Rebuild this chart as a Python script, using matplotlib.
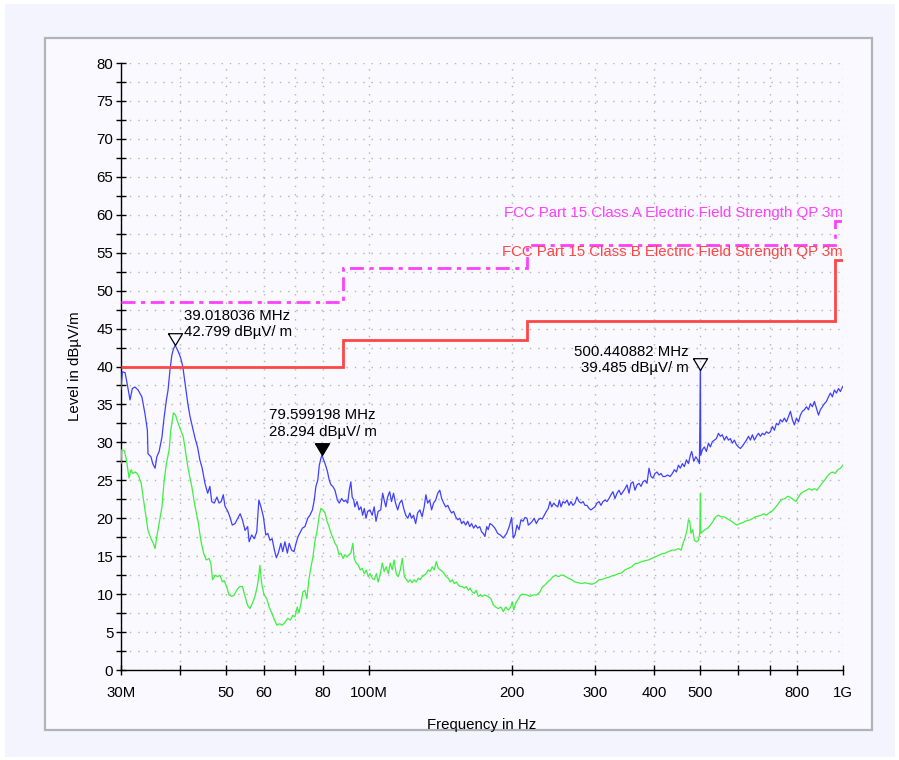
import matplotlib
matplotlib.use("Agg")
import matplotlib.pyplot as plt
from matplotlib.patches import Rectangle
from matplotlib.ticker import FixedLocator, NullFormatter, MultipleLocator

plt.rcParams['font.family'] = ['Liberation Sans', 'DejaVu Sans']

# peak trace (blue), MHz / dBuV/m
blue_freq = [30.0, 30.2, 30.6, 31.0, 31.34, 31.7, 32.1, 32.6, 33.2, 33.7, 34.1, 34.2, 34.7, 35.0, 35.4,
             35.7, 36.1, 36.6, 37.0, 37.4, 37.7, 38.05, 38.4, 38.7, 39.018, 39.3, 39.6, 40.1, 40.5, 40.94,
             41.5, 41.95, 42.6, 43.0, 43.5, 44.0, 44.5, 45.1, 45.7, 46.2, 46.6, 47.2, 47.8, 48.3, 48.8,
             49.3, 49.7, 50.4, 50.9, 51.5, 52.2, 52.9, 53.5, 54.1, 54.8, 55.5, 55.9, 56.6, 57.3, 58.0,
             58.6, 59.2, 59.9, 60.6, 61.2, 61.85, 62.5, 63.2, 63.8, 64.4, 65.2, 65.8, 66.5, 67.3, 67.9,
             68.7, 69.5, 70.2, 70.9, 72.4, 73.3, 74.3, 75.1, 76.0, 76.7, 77.3, 78.0, 78.6, 79.2, 79.599,
             80.5, 81.2, 81.8, 82.5, 83.2, 83.9, 84.8, 85.8, 86.6, 87.6, 88.6, 89.3, 90.2, 90.9, 91.6,
             92.2, 92.9, 93.4, 94.4, 95.3, 96.2, 97.0, 97.8, 98.6, 99.4, 100.5, 101.6, 102.6, 103.5, 104.6,
             105.9, 106.9, 107.7, 108.6, 109.5, 110.6, 111.6, 112.7, 113.8, 115.0, 116.1, 117.3, 118.4, 119.6, 120.8,
             122.0, 123.0, 124.2, 125.5, 126.7, 128.1, 129.5, 130.8, 131.9, 133.0, 134.3, 135.6, 136.9, 138.3, 139.7,
             141.1, 142.4, 143.8, 145.2, 146.7, 148.1, 149.4, 150.9, 152.4, 153.9, 155.5, 156.9, 158.4, 160.0, 161.6,
             163.2, 164.7, 166.3, 167.9, 169.6, 171.3, 172.9, 174.3, 175.7, 177.2, 178.5, 180.0, 182.0, 184.4, 186.9,
             189.3, 192.1, 195.2, 197.7, 200.0, 201.6, 203.3, 205.3, 207.3, 209.3, 211.4, 213.4, 215.5, 216.9, 218.9,
             221.1, 223.2, 225.5, 227.7, 229.8, 232.1, 234.4, 236.7, 239.0, 241.0, 243.0, 245.4, 247.8, 250.3, 252.2,
             254.2, 256.7, 259.2, 261.8, 264.3, 266.8, 269.4, 272.0, 274.7, 277.4, 280.2, 282.9, 285.7, 288.4, 291.3,
             294.0, 296.9, 299.8, 302.7, 305.7, 308.7, 311.7, 314.8, 317.8, 320.9, 324.1, 327.2, 330.4, 333.7, 336.9,
             340.3, 343.6, 346.9, 350.3, 353.7, 357.1, 360.6, 364.1, 367.7, 371.3, 374.9, 378.6, 382.3, 386.0, 389.8,
             393.6, 397.5, 401.3, 405.3, 409.2, 413.2, 417.2, 421.3, 427.0, 431.7, 436.6, 440.9, 445.3, 449.7, 453.9,
             458.3, 462.8, 467.4, 472.1, 476.4, 479.6, 484.4, 489.2, 494.1, 497.9, 500.44, 501.1, 505.0, 510.0, 515.1,
             520.2, 525.1, 530.2, 535.4, 540.8, 546.1, 551.2, 556.6, 562.1, 567.7, 573.3, 578.7, 584.3, 590.1, 595.9,
             601.8, 607.5, 613.5, 619.5, 625.6, 631.8, 637.8, 644.0, 650.3, 656.8, 663.3, 669.5, 676.1, 682.7, 689.5,
             696.3, 702.9, 709.7, 716.7, 723.8, 731.0, 737.8, 745.0, 752.3, 759.8, 767.4, 774.6, 782.1, 789.8, 797.7,
             805.6, 813.1, 821.1, 829.1, 837.4, 845.7, 853.6, 861.9, 870.4, 879.1, 887.8, 896.0, 904.8, 913.7, 922.8,
             931.9, 940.7, 949.9, 959.2, 968.8, 978.4, 987.6, 997.2, 1000.0]
blue_level = [37.0, 39.3, 39.2, 37.3, 35.6, 37.1, 37.3, 36.9, 36.0, 33.8, 31.6, 28.5, 28.1, 27.2, 26.6,
              28.1, 28.8, 30.7, 33.4, 35.6, 36.9, 39.5, 41.5, 42.3, 42.799, 42.4, 42.0, 41.1, 40.0, 37.8,
              35.1, 33.4, 31.6, 30.5, 29.4, 27.7, 26.6, 24.6, 23.3, 24.2, 22.2, 22.0, 22.8, 22.0, 22.2,
              23.1, 21.6, 20.9, 20.2, 19.1, 19.3, 20.0, 20.6, 19.8, 18.4, 18.9, 16.9, 17.8, 17.3, 18.2,
              22.4, 21.5, 20.2, 17.8, 18.0, 17.1, 17.3, 15.8, 14.8, 15.4, 16.7, 15.6, 16.9, 15.4, 16.7,
              15.8, 15.6, 16.7, 17.6, 18.7, 18.9, 20.0, 20.4, 21.1, 22.4, 24.2, 25.0, 27.0, 27.9, 28.294,
              27.5, 26.8, 26.1, 25.0, 24.4, 24.2, 23.7, 22.4, 22.0, 22.6, 22.2, 22.4, 22.0, 23.7, 24.8,
              22.8, 22.4, 21.5, 22.2, 21.1, 21.5, 20.4, 21.3, 20.0, 20.9, 21.1, 20.4, 21.5, 19.6, 20.9,
              21.1, 23.3, 22.4, 21.5, 22.8, 23.5, 22.2, 23.3, 22.0, 21.1, 22.0, 22.4, 21.3, 20.4, 20.0,
              20.7, 20.0, 20.4, 19.3, 20.7, 21.1, 20.2, 21.5, 23.1, 22.0, 22.4, 21.1, 22.0, 22.4, 23.3,
              23.7, 22.6, 22.0, 21.5, 21.7, 21.1, 20.7, 20.9, 20.2, 19.8, 20.0, 19.3, 19.6, 19.1, 19.6,
              18.9, 19.3, 18.7, 19.1, 18.7, 18.9, 18.2, 18.0, 17.6, 18.9, 18.5, 19.3, 19.1, 18.7, 18.0,
              17.8, 17.4, 18.0, 18.9, 20.1, 17.4, 17.8, 19.1, 18.5, 19.8, 19.6, 20.1, 20.0, 19.1, 19.3,
              19.6, 20.0, 19.3, 19.8, 20.0, 19.9, 20.4, 20.9, 21.3, 22.2, 21.5, 22.0, 21.7, 21.5, 22.4,
              21.5, 22.2, 22.0, 22.4, 21.7, 22.2, 21.7, 22.0, 22.8, 22.2, 22.0, 22.2, 21.7, 21.7, 21.3,
              21.1, 21.3, 21.5, 22.0, 22.2, 21.7, 22.2, 22.4, 22.2, 22.6, 23.1, 23.5, 22.6, 23.3, 23.7,
              23.1, 23.5, 23.9, 24.4, 23.3, 24.6, 24.8, 23.7, 24.4, 24.6, 24.2, 24.8, 25.0, 24.6, 26.6,
              25.5, 25.3, 25.9, 26.1, 25.7, 25.9, 25.5, 25.5, 25.7, 25.5, 25.9, 26.4, 26.1, 27.0, 26.6,
              27.2, 26.8, 27.7, 27.2, 28.3, 28.8, 27.5, 28.1, 27.7, 27.2, 39.485, 28.3, 29.0, 29.4, 28.8,
              29.9, 29.4, 30.1, 30.3, 30.5, 31.2, 30.8, 31.0, 30.3, 30.8, 30.3, 30.5, 29.9, 30.3, 29.7,
              29.4, 29.2, 29.5, 29.9, 30.3, 30.8, 30.3, 31.0, 30.3, 30.8, 31.2, 30.8, 31.2, 31.0, 31.4,
              31.2, 31.4, 32.1, 31.6, 32.5, 32.3, 33.0, 32.7, 33.2, 32.7, 33.4, 34.1, 33.0, 32.3, 33.2,
              32.7, 33.6, 34.1, 34.3, 34.7, 34.3, 35.1, 34.7, 35.4, 34.5, 33.6, 34.3, 34.7, 35.1, 35.4,
              36.0, 36.5, 36.0, 36.9, 36.5, 37.1, 36.7, 37.3, 37.4]

# average trace (green)
green_freq = [30.0, 30.1, 30.5, 30.8, 31.2, 31.5, 31.8, 32.2, 32.6, 33.1, 33.4, 33.8, 34.2, 34.7, 35.1,
              35.4, 35.7, 36.1, 36.6, 37.0, 37.4, 37.9, 38.2, 38.7, 39.1, 39.6, 40.1, 40.6, 41.1, 41.6,
              42.3, 43.0, 43.7, 44.2, 44.8, 45.4, 46.0, 46.4, 46.8, 47.4, 48.0, 48.5, 49.1, 49.5, 50.1,
              50.7, 51.4, 52.0, 52.7, 53.4, 54.1, 54.8, 55.5, 56.1, 56.8, 57.5, 58.3, 58.9, 59.4, 60.1,
              60.9, 61.6, 62.4, 63.2, 64.0, 64.8, 65.7, 66.5, 67.4, 68.3, 69.1, 69.8, 70.6, 71.2, 71.9,
              72.6, 73.3, 74.0, 74.7, 75.5, 76.2, 77.0, 77.7, 78.5, 79.2, 80.0, 80.8, 81.6, 82.4, 83.2,
              84.0, 84.8, 85.6, 86.5, 87.3, 88.2, 89.0, 89.9, 90.8, 91.6, 92.5, 93.1, 94.0, 95.0, 95.9,
              96.8, 97.8, 98.7, 99.7, 100.6, 101.6, 102.6, 103.7, 104.6, 105.7, 106.7, 107.7, 108.8, 109.9, 110.9,
              112.0, 113.0, 114.2, 115.3, 116.5, 117.6, 118.8, 120.0, 121.1, 122.2, 123.4, 124.6, 125.8, 127.1, 128.3,
              129.5, 130.8, 132.1, 133.4, 134.7, 136.0, 137.4, 138.7, 140.1, 141.4, 142.8, 144.2, 145.6, 147.1, 148.4,
              149.9, 151.3, 152.9, 154.4, 155.8, 157.4, 158.9, 160.5, 162.1, 163.5, 165.1, 166.8, 168.4, 170.1, 171.8,
              173.4, 175.1, 178.5, 180.9, 182.9, 185.0, 187.5, 189.9, 192.1, 194.3, 196.9, 199.1, 200.6, 202.0, 204.0,
              206.7, 209.0, 211.6, 215.2, 218.6, 222.1, 225.8, 229.5, 232.5, 235.1, 238.3, 241.4, 244.5, 247.8, 251.0,
              254.2, 257.0, 260.1, 263.5, 267.7, 272.0, 276.5, 281.1, 285.7, 290.4, 295.0, 298.8, 302.3, 305.7, 309.7,
              314.8, 320.0, 325.2, 330.4, 335.9, 341.4, 346.9, 352.7, 358.4, 364.1, 370.2, 376.2, 382.3, 388.6, 395.0,
              401.3, 408.0, 414.6, 421.3, 428.3, 435.3, 442.3, 449.7, 455.4, 459.9, 464.3, 468.9, 472.1, 475.1, 478.0,
              482.0, 485.8, 490.6, 495.5, 498.7, 500.44, 501.1, 505.0, 511.7, 518.5, 525.1, 532.0, 539.0, 546.1, 553.1,
              560.4, 567.7, 575.0, 582.6, 590.1, 597.8, 605.8, 613.5, 621.5, 629.8, 637.8, 646.2, 654.6, 663.3, 671.8,
              680.7, 689.5, 698.4, 707.6, 716.7, 726.1, 735.8, 745.0, 754.8, 764.9, 772.3, 779.8, 787.5, 795.4, 805.6,
              815.9, 826.7, 837.4, 848.2, 859.4, 870.4, 881.8, 893.5, 902.1, 913.7, 925.7, 938.0, 949.9, 962.4, 975.3,
              987.6, 1000.0]
green_level = [27.2, 29.0, 28.9, 27.7, 25.3, 26.4, 25.9, 26.1, 25.7, 24.6, 22.8, 20.6, 18.4, 17.3, 16.7,
               16.0, 17.6, 19.3, 21.5, 25.0, 27.2, 29.0, 31.6, 33.9, 33.6, 32.5, 31.6, 30.7, 28.5, 26.4,
               24.2, 21.5, 19.3, 17.1, 15.4, 14.5, 14.7, 14.1, 11.9, 12.5, 12.3, 12.5, 11.6, 11.8, 11.0,
               9.9, 9.7, 9.9, 10.6, 11.0, 11.0, 9.7, 8.5, 8.1, 8.8, 9.7, 11.4, 13.8, 11.4, 9.9,
               9.4, 8.3, 7.5, 6.6, 5.9, 6.1, 5.9, 6.3, 6.8, 6.6, 7.2, 7.0, 8.3, 7.5, 8.8,
               10.3, 10.5, 9.4, 11.9, 13.6, 14.9, 17.1, 18.2, 20.2, 21.3, 21.1, 20.7, 19.6, 18.9, 18.0,
               17.4, 16.7, 16.3, 15.2, 15.4, 14.7, 15.2, 14.9, 15.2, 15.4, 16.7, 14.7, 14.1, 13.8, 13.2,
               13.4, 12.7, 13.2, 12.3, 12.7, 12.1, 11.9, 12.7, 11.6, 12.7, 14.1, 13.0, 13.6, 12.7, 14.1,
               13.2, 14.5, 12.7, 12.3, 13.2, 14.7, 12.3, 11.9, 11.6, 11.9, 11.5, 11.9, 11.6, 12.1, 11.9,
               12.3, 12.5, 12.7, 13.2, 13.0, 13.6, 13.2, 14.3, 13.4, 13.2, 13.0, 12.7, 12.3, 12.1, 11.6,
               11.9, 11.4, 11.6, 11.2, 11.0, 11.0, 10.8, 11.0, 10.5, 10.8, 10.3, 10.1, 10.5, 9.7, 9.9,
               9.7, 9.9, 9.7, 9.4, 8.6, 8.3, 8.1, 8.3, 7.7, 8.3, 7.9, 8.3, 9.0, 7.9, 8.8,
               9.4, 9.9, 10.0, 9.9, 9.7, 9.9, 9.9, 10.3, 11.0, 11.2, 11.6, 11.9, 12.3, 12.5, 12.3,
               12.5, 12.5, 12.3, 12.1, 11.9, 11.6, 11.5, 11.4, 11.5, 11.4, 11.3, 11.4, 11.6, 11.9, 11.9,
               12.1, 12.2, 12.4, 12.5, 12.7, 12.8, 13.2, 13.4, 13.6, 14.0, 14.1, 14.3, 14.4, 14.5, 14.7,
               14.9, 15.1, 15.3, 15.4, 15.6, 15.8, 15.8, 16.0, 15.8, 16.7, 17.4, 18.5, 19.8, 19.6, 18.0,
               18.5, 17.1, 16.9, 17.1, 18.0, 23.3, 18.0, 18.2, 18.5, 18.7, 19.1, 19.6, 20.2, 20.4, 20.2,
               20.2, 20.0, 19.8, 19.6, 19.3, 19.1, 19.3, 19.4, 19.6, 19.7, 19.8, 20.0, 20.2, 20.3, 20.4,
               20.6, 20.4, 20.7, 20.9, 21.3, 21.7, 22.2, 22.5, 22.6, 22.9, 22.8, 22.6, 22.4, 22.2, 22.8,
               23.3, 23.5, 23.7, 23.9, 23.7, 23.9, 23.7, 24.2, 24.6, 25.0, 25.5, 25.9, 26.1, 25.9, 26.4,
               26.6, 27.0]

# limit lines: band edges (MHz) and levels
class_b_edges = [30, 88, 216, 960, 1000]
class_b_level = [40.0, 43.5, 46.0, 54.0]
class_a_edges = [30, 88, 216, 960, 1000]
class_a_level = [48.5, 53.0, 56.0, 59.2]

# markers
marker_freq = [39.018036, 79.599198, 500.440882]
marker_level = [42.799, 28.294, 39.485]
marker_filled = [False, True, False]

xtick_pos = [30, 40, 50, 60, 70, 80, 100, 200, 300, 400, 500, 600, 700, 800, 1000]
xtick_lab = ['30M', '', '50', '60', '', '80', '100M', '200', '300', '400', '500', '', '', '800', '1G']

fs = 10.8

fig = plt.figure(figsize=(8.99, 7.6), dpi=100)
fig.patches.append(Rectangle((0.0056, 0.004), 0.99, 0.9905, transform=fig.transFigure,
                             facecolor='#f3f4fd', edgecolor='none', zorder=-3))
fig.patches.append(Rectangle((0.0501, 0.0395), 0.920, 0.9105, transform=fig.transFigure,
                             facecolor='#f9f9ff', edgecolor='#b2b2b8', lw=1.6, zorder=-2))

ax = fig.add_axes([0.1346, 0.1184, 0.8031, 0.7987])
ax.set_facecolor('none')
ax.set_xscale('log')
ax.set_xlim(30, 1000)
ax.set_ylim(0, 80)

for s in ['top', 'right']:
    ax.spines[s].set_visible(False)
ax.spines['left'].set_linewidth(1.0)
ax.spines['bottom'].set_linewidth(1.0)

ax.xaxis.set_major_locator(FixedLocator(xtick_pos))
ax.xaxis.set_minor_locator(FixedLocator([]))
ax.set_xticklabels(xtick_lab)
ax.xaxis.set_minor_formatter(NullFormatter())
ax.yaxis.set_major_locator(MultipleLocator(5))
ax.yaxis.set_minor_locator(MultipleLocator(2.5))
ax.tick_params(axis='both', which='both', direction='inout', length=7, width=1, labelsize=fs)
ax.tick_params(axis='x', pad=8)
ax.tick_params(axis='y', pad=2)

ax.grid(True, which='major', axis='x', color='#b4b4b4', linestyle=(0, (1, 5)), lw=1)
ax.grid(True, which='both', axis='y', color='#b4b4b4', linestyle=(0, (1, 5)), lw=1)
ax.set_axisbelow(True)

ax.plot(green_freq, green_level, color='#3ff03f', lw=0.9, zorder=3)
ax.plot(blue_freq, blue_level, color='#4040ff', lw=0.9, zorder=4)

ax.stairs(class_a_level, class_a_edges, baseline=None, color='#ff40ff', lw=2.0,
          linestyle=(0, (5, 2, 1.5, 2)), zorder=5)
ax.stairs(class_b_level, class_b_edges, baseline=None, color='#ff4646', lw=2.0, zorder=5)

ax.text(1000, 60.2, 'FCC Part 15 Class A Electric Field Strength QP 3m', color='#ff40ff',
        fontsize=fs, ha='right', va='center', zorder=6)
ax.text(1000, 55.1, 'FCC Part 15 Class B Electric Field Strength QP 3m', color='#ff4646',
        fontsize=fs, ha='right', va='center', zorder=6)

tri = [(-0.6, 1.0), (0.6, 1.0), (0.0, 0.0), (-0.6, 1.0)]
text_offsets = [(6.5, 4.5), (-38, 12), (-8.5, -3.5)]
text_ha = ['left', 'left', 'right']
for f, lv, filled, off, ha in zip(marker_freq, marker_level, marker_filled, text_offsets, text_ha):
    ax.plot([f], [lv], marker=tri, ms=17, mec='black', mew=0.9,
            mfc='black' if filled else 'none', ls='none', zorder=7)
    ax.annotate('%.6f MHz\n%.3f dBµV/ m' % (f, lv), xy=(f, lv), xytext=off,
                textcoords='offset points', ha=ha, va='bottom', fontsize=fs,
                multialignment='right' if ha == 'right' else 'left', linespacing=1.2, zorder=7)

ax.set_xlabel('Frequency in Hz', fontsize=fs)
ax.set_ylabel('Level in dBµV/m', fontsize=fs)
ax.xaxis.set_label_coords(0.5, -0.079)
ax.yaxis.set_label_coords(-0.054, 0.5)

fig.savefig('out.png', dpi=100)
